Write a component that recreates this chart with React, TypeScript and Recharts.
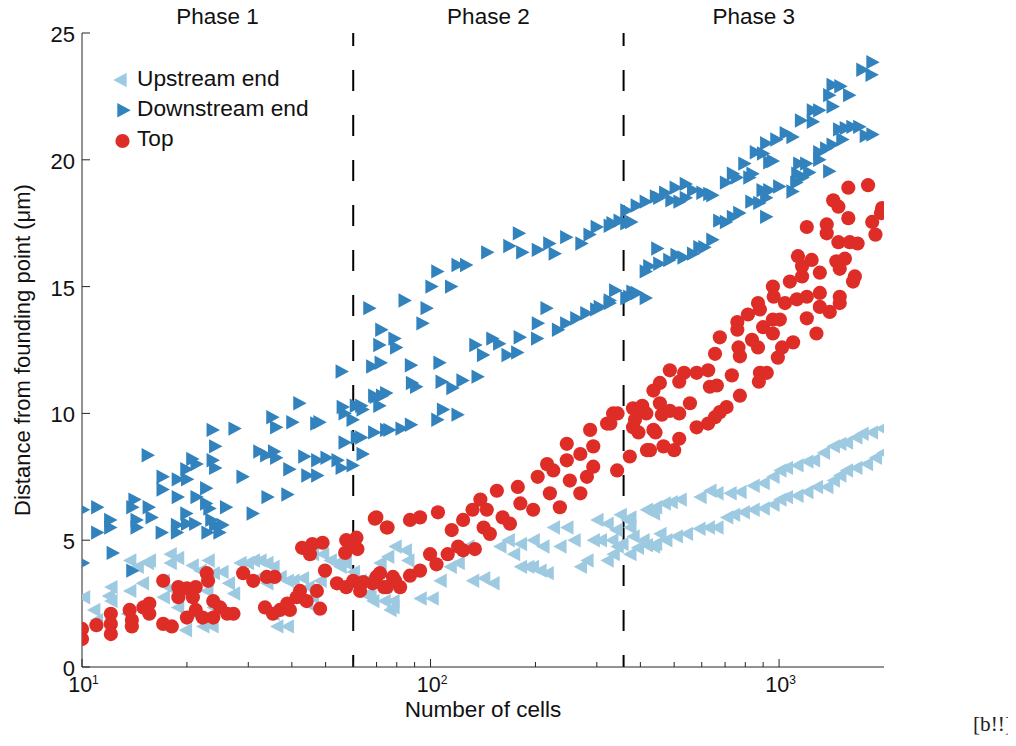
import React from 'react';
import { ScatterChart, Scatter, XAxis, YAxis, ReferenceLine, ReferenceArea, Legend } from 'recharts';

// Upstream end: [number of cells, distance (µm)]
const upstream: [number, number][] = [
  [10.1, 2.75], [10.8, 2.25], [11.0, 1.85], [11.9, 2.8], [12.1, 3.15], [12.1, 2.6], [13.5, 2.1], [13.7, 4.2],
  [13.7, 3.0], [14.4, 3.95], [14.9, 3.3], [15.0, 2.25], [15.4, 4.1], [15.6, 4.2], [17.1, 2.75], [17.1, 3.4],
  [17.9, 3.1], [17.9, 4.45], [17.9, 4.1], [18.8, 4.3], [18.8, 2.35], [19.8, 1.45], [20.7, 4.0], [20.8, 2.1],
  [21.8, 3.8], [22.2, 1.6], [22.8, 3.0], [23.0, 4.2], [23.6, 1.6], [23.8, 3.7], [23.8, 2.35], [25.2, 3.75],
  [26.3, 3.3], [27.2, 2.9], [28.4, 4.1], [29.8, 4.1], [31.0, 4.2], [32.4, 4.2], [32.4, 3.55], [33.9, 4.1],
  [33.9, 3.3], [35.3, 3.95], [35.3, 2.1], [36.2, 1.6], [37.0, 3.55], [38.8, 3.4], [38.8, 1.6], [40.3, 3.4],
  [42.9, 3.5], [44.1, 2.5], [44.5, 3.15], [45.8, 2.75], [45.8, 4.45], [48.2, 3.4], [49.0, 4.45], [51.5, 4.2],
  [53.9, 4.1], [55.0, 3.95], [56.9, 4.1], [60.0, 3.75], [62.8, 3.4], [66.3, 2.9], [68.3, 2.6], [71.6, 4.1],
  [73.6, 2.6], [75.3, 4.35], [78.0, 2.35], [79.1, 4.75],
  [68.3, 3.55], [67.0, 2.75], [76.5, 2.25], [78.0, 2.6], [84.6, 4.6], [86.0, 4.2], [93.3, 2.7], [101, 2.7],
  [106.5, 3.4], [113.8, 3.95], [120, 4.1], [128, 4.75], [132, 3.4], [142, 3.5], [151, 3.3], [158, 4.75],
  [167, 5.0], [173, 4.45], [181, 3.95], [190, 3.95], [196, 3.95], [181, 4.85], [197, 5.0], [210, 4.75],
  [206, 3.8], [216, 3.7], [225, 5.5], [235, 4.75], [246, 5.5], [258, 5.0], [269, 3.95], [281, 4.2],
  [293, 5.0], [300, 5.8], [321, 5.65], [331, 5.0], [343, 4.75], [366, 5.8], [381, 5.15], [407, 5.0],
  [436, 6.05], [436, 4.75], [455, 5.25],
  [1970, 9.4], [1840, 9.25], [1730, 9.2], [1660, 9.05], [1560, 8.85], [1493, 8.8], [1430, 8.7], [1340, 8.45],
  [1255, 8.15], [1201, 8.1], [1125, 7.95], [1049, 7.85], [1005, 7.75], [960, 7.5], [900, 7.25], [842, 7.15],
  [772, 6.9], [723, 6.85], [663, 6.85], [633, 6.95], [593, 6.7], [520, 6.6], [490, 6.5], [468, 6.45],
  [442, 6.3], [416, 6.2], [373, 5.9], [350, 6.0], [340, 5.4], [373, 5.5],
  [1990, 8.45], [1890, 8.25], [1780, 8.0], [1660, 7.85], [1560, 7.75], [1493, 7.55], [1430, 7.35], [1370, 7.1],
  [1280, 7.1], [1201, 6.9], [1125, 6.75], [1049, 6.7], [1005, 6.6], [960, 6.4], [900, 6.25], [842, 6.2],
  [789, 6.1], [740, 6.0], [707, 5.9], [663, 5.5], [626, 5.5], [589, 5.45], [542, 5.25], [507, 5.15],
  [473, 5.0], [442, 4.85], [416, 4.8], [392, 4.7], [373, 4.45], [354, 4.85], [334, 4.45], [321, 4.2], [307, 5.0],
];

// Downstream end
const downstream: [number, number][] = [
  [10.1, 6.2], [11.1, 6.3], [10.1, 4.1], [11.1, 5.3], [12.1, 5.8], [12.1, 5.5], [12.3, 4.5], [15.5, 8.35],
  [14.2, 6.6], [14.0, 6.3], [14.4, 5.8], [14.4, 5.5], [14.0, 3.8], [15.6, 6.3], [15.9, 5.9], [17.1, 7.5],
  [17.1, 7.0], [18.9, 7.4], [18.9, 6.7], [20.0, 7.8], [20.1, 7.4], [20.8, 8.2], [21.4, 8.0], [21.4, 6.7],
  [20.0, 6.05], [20.1, 5.65], [22.8, 7.05], [22.8, 6.45], [23.3, 6.25], [23.8, 9.35], [24.2, 8.7], [23.8, 8.15],
  [24.2, 7.85], [27.5, 9.4], [26.0, 6.3], [23.6, 5.8], [24.2, 5.6], [25.4, 5.6], [18.8, 5.6], [17.0, 5.3],
  [18.8, 5.3], [21.2, 5.65], [23.0, 5.3], [24.9, 5.3], [29.0, 7.5], [31.0, 6.05], [32.4, 8.5], [33.9, 8.35],
  [35.7, 8.5], [36.2, 8.25], [35.3, 9.85], [36.2, 9.45], [40.3, 9.65], [39.5, 7.8], [34.2, 6.7], [39.0, 6.8],
  [42.2, 10.4], [43.6, 8.3], [44.5, 7.55], [47.2, 9.6], [47.5, 8.15], [50.5, 8.25], [47.5, 7.55], [54.3, 8.15],
  [55.8, 7.85], [56.9, 10.0], [56.9, 8.85], [60.0, 7.95], [60.0, 9.75], [63.5, 10.3], [69.2, 10.7], [72.9, 10.7],
  [64.1, 8.4], [69.2, 9.25], [76.5, 9.35], [63.5, 9.05],
  [48.2, 9.65], [56.2, 10.25], [61.3, 10.3], [64.1, 10.15], [61.7, 9.05], [69.9, 10.65], [71.6, 10.3], [74.9, 10.8],
  [55.8, 11.65], [68.3, 11.85], [72.2, 12.0], [71.6, 12.7], [79.1, 12.95], [80.0, 12.6], [72.5, 13.3], [67.0, 14.15],
  [84.6, 14.45], [88.2, 11.9], [88.8, 11.2], [91.3, 11.05], [106.5, 12.0], [108, 11.25], [116, 11.0], [124, 11.3],
  [137, 11.45], [105, 9.75], [109, 10.15], [120, 9.95], [74.9, 9.35], [82.9, 9.4], [88.2, 9.55], [95.2, 13.55],
  [97.8, 14.15], [101, 15.0], [105, 15.6], [115, 15.0], [120, 15.85], [127, 15.85], [146, 16.35], [169, 16.6],
  [180, 17.1], [184, 16.35], [204, 16.45], [220, 16.7], [228, 16.3], [246, 16.95], [272, 16.7], [287, 17.05],
  [301, 17.35], [334, 17.5], [366, 17.5], [135, 12.7], [142, 12.3], [151, 12.95], [158, 12.75], [167, 12.3],
  [178, 12.4], [181, 13.0], [203, 12.95], [204, 13.55], [216, 14.15], [233, 13.3], [246, 13.55], [263, 13.75],
  [281, 13.95], [300, 14.1], [328, 14.35], [366, 14.55], [381, 14.8], [307, 14.2], [328, 14.45],
  [392, 18.2], [366, 18.0], [378, 17.55], [416, 18.35], [445, 18.55], [473, 18.7], [493, 18.4], [507, 18.9],
  [542, 19.05], [542, 18.5], [569, 18.8], [605, 18.7], [633, 18.65], [707, 19.1], [740, 19.45], [825, 19.3],
  [798, 19.85], [941, 19.9], [861, 20.3], [922, 20.65], [986, 20.8], [1097, 20.9], [1049, 21.05], [1160, 21.55],
  [1255, 21.5], [1255, 21.95], [1430, 22.1], [1398, 22.55], [1595, 22.55], [1505, 22.9], [1430, 22.95], [1850, 23.35],
  [1740, 23.55], [1860, 23.85], [1309, 21.95], [903, 20.25], [963, 19.95], [842, 19.45], [759, 19.3], [646, 18.6],
  [520, 18.35], [455, 18.5], [350, 17.6], [328, 17.4],
  [392, 14.75], [416, 14.55], [373, 14.6], [340, 14.85], [416, 15.6], [426, 15.8], [455, 15.9], [449, 16.5],
  [486, 16.05], [510, 16.25], [534, 16.15], [569, 16.3], [613, 16.55], [646, 16.85], [593, 16.55], [707, 17.55],
  [772, 17.9], [740, 17.75], [676, 17.6], [881, 18.3], [922, 17.75], [836, 18.35], [941, 18.8], [900, 18.8],
  [922, 18.5], [1005, 18.95], [1097, 18.75], [1125, 19.1], [1172, 19.3], [1133, 19.45], [1147, 19.85], [1201, 19.85],
  [1225, 19.5], [1309, 20.0], [1309, 20.3], [1370, 20.45], [1398, 19.55], [1430, 20.6], [1525, 20.8], [1493, 21.2],
  [1560, 21.25], [1705, 21.3], [1780, 20.95], [1630, 21.3], [1860, 21.0],
];

// Top
const topPts: [number, number][] = [
  [10.0, 1.5], [10.0, 1.1], [11.0, 1.65], [12.1, 2.1], [12.1, 1.7], [12.1, 1.3], [13.7, 2.25], [13.9, 1.85],
  [13.9, 1.6], [15.0, 2.35], [15.6, 2.5], [15.6, 2.1], [17.1, 3.4], [17.1, 1.7], [18.1, 1.6], [18.9, 3.15],
  [18.9, 2.75], [20.0, 3.1], [21.2, 3.15], [20.8, 2.75], [20.0, 1.95], [21.2, 2.25], [22.2, 1.95], [23.0, 3.4],
  [22.8, 3.7], [23.8, 2.6], [23.8, 1.95], [24.9, 2.35], [26.1, 2.1], [27.2, 2.1], [29.0, 3.7], [31.0, 3.4],
  [33.9, 3.55], [35.7, 3.55], [33.5, 2.35], [35.3, 2.1], [37.0, 2.25], [38.8, 2.5], [39.5, 2.25], [41.3, 2.75],
  [42.2, 3.0], [44.1, 2.6], [47.2, 3.0], [48.2, 2.3], [49.8, 3.8], [42.8, 4.7], [45.1, 4.45], [45.8, 4.85],
  [49.0, 4.9], [53.9, 3.3], [57.3, 3.15], [57.3, 5.0], [61.3, 5.1], [56.9, 4.5], [61.7, 4.65], [69.2, 5.85],
  [75.3, 5.5], [60.0, 3.4], [64.1, 3.35], [69.9, 3.55], [73.6, 3.15], [79.1, 3.4],
  [62.8, 3.0], [68.3, 3.3], [71.6, 3.7], [74.9, 3.15], [78.0, 3.55], [81.8, 3.15], [87.3, 3.6], [93.3, 3.8],
  [99.7, 4.45], [104, 4.05], [112, 4.45], [120, 4.75], [124, 4.6], [134, 4.65], [115, 5.4], [124, 5.8],
  [132, 6.2], [139, 6.6], [145, 6.2], [142, 5.5], [148, 5.25], [155, 6.95], [161, 5.9], [169, 5.65],
  [178, 7.1], [181, 6.45], [197, 6.2], [203, 7.5], [216, 8.0], [225, 7.75], [220, 6.85], [235, 6.3],
  [246, 8.8], [246, 8.15], [251, 7.35], [269, 8.4], [269, 6.85], [281, 7.5], [287, 9.35], [293, 8.7],
  [293, 7.9], [321, 9.6], [334, 10.0], [343, 7.75], [373, 8.3], [381, 9.45], [392, 10.1], [416, 10.0],
  [426, 8.55], [436, 9.35], [455, 10.4], [69.9, 5.9], [74.9, 5.5], [87.3, 5.8], [93.3, 5.9], [105, 6.1], [60.0, 4.85],
  [328, 9.6], [344, 10.0], [381, 10.2], [386, 9.75], [395, 9.25], [405, 10.3], [436, 10.9], [461, 9.95],
  [442, 9.25], [418, 8.55], [466, 8.7], [500, 8.55], [517, 9.0], [486, 10.1], [517, 10.0], [555, 10.4],
  [580, 9.45], [626, 9.6], [655, 9.85], [676, 10.05], [707, 10.25], [772, 10.7], [633, 11.05], [455, 11.2],
  [486, 11.7], [534, 11.6], [580, 11.6], [626, 11.7], [517, 11.25], [663, 11.1], [676, 13.0], [655, 12.35],
  [759, 13.6], [759, 13.3], [765, 12.6], [772, 12.25], [732, 11.5], [814, 13.9], [870, 14.35], [881, 14.1],
  [836, 12.9], [870, 12.6], [900, 13.4], [960, 13.7], [960, 13.15], [1005, 13.7], [1020, 12.6], [992, 12.2],
  [881, 11.6], [922, 11.6], [875, 11.25], [1097, 12.8], [960, 15.0], [965, 14.6], [1040, 14.35], [1074, 15.2],
  [1125, 14.5], [1164, 15.4], [1201, 14.6], [1164, 15.8], [1133, 16.2], [1240, 16.05], [1309, 15.55], [1309, 14.75],
  [1309, 14.2], [1398, 14.0], [1201, 13.75], [1280, 13.15], [1460, 16.0], [1493, 15.7], [1545, 16.1], [1493, 14.6],
  [1493, 14.35], [1650, 15.4], [1630, 15.2], [1201, 17.35], [1370, 17.45], [1370, 17.1], [1430, 18.4], [1480, 18.15],
  [1580, 18.9], [1580, 17.7], [1480, 16.75], [1595, 16.75], [1680, 16.7], [1800, 19.0], [1850, 17.55], [1890, 17.05],
  [1960, 17.9], [1975, 18.1],
];

const xTicks = [10, 20, 30, 40, 50, 60, 70, 80, 90, 100, 200, 300, 400, 500, 600, 700, 800, 900, 1000];
const xMajor = [10, 100, 1000];
const yTicks = [0, 5, 10, 15, 20, 25];
const xDomain = [10, 2000];
const yDomain = [0, 25];
const phaseBounds = [60, 358];
const phases = [
  { name: 'Phase 1', from: 10, to: 60 },
  { name: 'Phase 2', from: 60, to: 358 },
  { name: 'Phase 3', from: 358, to: 2000 },
];
const seriesNames = ['Upstream end', 'Downstream end', 'Top'];

const C_UP = '#9ecae1';
const C_DOWN = '#3182bd';
const C_TOP = '#de2d26';
const AXIS = '#262626';
const TXT = '#111';
const FONT = '"Liberation Sans", Arial, Helvetica, sans-serif';

const toPts = (a: [number, number][]) => a.map(([x, y]) => ({ x, y }));

const leftTri = (cx: number, cy: number, fill: string) => (
  <polygon points={`${cx + 6.7},${cy - 7.2} ${cx - 6.7},${cy} ${cx + 6.7},${cy + 7.2}`} fill={fill} />
);
const rightTri = (cx: number, cy: number, fill: string) => (
  <polygon points={`${cx - 6.7},${cy - 7.2} ${cx + 6.7},${cy} ${cx - 6.7},${cy + 7.2}`} fill={fill} />
);
const dot = (cx: number, cy: number, fill: string) => <circle cx={cx} cy={cy} r={7.1} fill={fill} />;

const UpShape = (p: any) => leftTri(p.cx, p.cy, C_UP);
const DownShape = (p: any) => rightTri(p.cx, p.cy, C_DOWN);
const TopShape = (p: any) => dot(p.cx, p.cy, C_TOP);

const BottomTick = (p: any) => {
  const { x, y, payload } = p;
  const v = payload.value;
  const major = xMajor.includes(v);
  return (
    <g>
      <line x1={x} x2={x} y1={y} y2={y - (major ? 8 : 5)} stroke={AXIS} strokeWidth={1} />
      {major && (
        <text x={x + 1.5} y={y + 25} textAnchor="middle" fontSize={21.5} fill={TXT} fontFamily={FONT}>
          10<tspan dy={-8} fontSize={12}>{Math.round(Math.log10(v))}</tspan>
        </text>
      )}
    </g>
  );
};
const TopTick = (p: any) => {
  const { x, y, payload } = p;
  const major = xMajor.includes(payload.value);
  return <line x1={x} x2={x} y1={y} y2={y + (major ? 8 : 5)} stroke={AXIS} strokeWidth={1} />;
};
const LeftTick = (p: any) => {
  const { x, y, payload } = p;
  return (
    <g>
      <line x1={x} x2={x + 8} y1={y} y2={y} stroke={AXIS} strokeWidth={1} />
      <text x={x - 7} y={y} dy={9} textAnchor="end" fontSize={22} fill={TXT} fontFamily={FONT}>
        {payload.value}
      </text>
    </g>
  );
};
const RightTick = (p: any) => {
  const { x, y } = p;
  return <line x1={x} x2={x - 8} y1={y} y2={y} stroke={AXIS} strokeWidth={1} />;
};

const renderLegend = () => (
  <svg width={240} height={100} style={{ display: 'block', overflow: 'visible' }}>
    {leftTri(12, 14, C_UP)}
    {rightTri(16, 44.3, C_DOWN)}
    {dot(14.5, 75, C_TOP)}
    {seriesNames.map((n, i) => (
      <text key={n} x={29} y={20 + i * 30} fontSize={22.7} fill={TXT} fontFamily={FONT}>
        {n}
      </text>
    ))}
  </svg>
);

export default function App() {
  return (
    <div style={{ position: 'relative', width: 1016, height: 746, marginTop: -8, marginLeft: -8, fontFamily: FONT }}>
      <ScatterChart width={1016} height={746} margin={{ top: 33, right: 132, bottom: 19, left: 22 }}>
        <XAxis
          dataKey="x"
          type="number"
          scale="log"
          domain={xDomain}
          allowDataOverflow
          ticks={xTicks}
          interval={0}
          tickSize={0}
          tickMargin={0}
          tickLine={false}
          tick={BottomTick}
          axisLine={{ stroke: AXIS }}
          height={60}
          label={{ value: 'Number of cells', position: 'insideBottom', offset: 10, style: { fontSize: 22.5, fill: TXT, fontFamily: FONT } }}
        />
        <XAxis
          xAxisId="top"
          orientation="top"
          type="number"
          scale="log"
          domain={xDomain}
          allowDataOverflow
          ticks={xTicks}
          interval={0}
          height={0}
          tickSize={0}
          tickMargin={0}
          tickLine={false}
          tick={TopTick}
          axisLine={{ stroke: AXIS }}
        />
        <YAxis
          dataKey="y"
          type="number"
          domain={yDomain}
          allowDataOverflow
          ticks={yTicks}
          interval={0}
          width={60}
          tickSize={0}
          tickMargin={0}
          tickLine={false}
          tick={LeftTick}
          axisLine={{ stroke: AXIS }}
          label={{
            value: 'Distance from founding point (μm)',
            angle: -90,
            position: 'insideLeft',
            offset: 0,
            style: { textAnchor: 'middle', fontSize: 22, fill: TXT, fontFamily: FONT },
          }}
        />
        <YAxis
          yAxisId="right"
          orientation="right"
          type="number"
          domain={yDomain}
          allowDataOverflow
          ticks={yTicks}
          interval={0}
          width={0}
          tickSize={0}
          tickMargin={0}
          tickLine={false}
          tick={RightTick}
          axisLine={{ stroke: AXIS }}
        />
        {phases.map((ph) => (
          <ReferenceArea
            key={ph.name}
            x1={ph.from}
            x2={ph.to}
            fill="none"
            fillOpacity={0}
            stroke="none"
            label={{ value: ph.name, position: 'top', offset: 9, style: { fontSize: 22.5, fill: TXT, fontFamily: FONT } }}
          />
        ))}
        <Scatter name={seriesNames[0]} data={toPts(upstream)} shape={UpShape} isAnimationActive={false} />
        <Scatter name={seriesNames[1]} data={toPts(downstream)} shape={DownShape} isAnimationActive={false} />
        <Scatter name={seriesNames[2]} data={toPts(topPts)} shape={TopShape} isAnimationActive={false} />
        {phaseBounds.map((b) => (
          <ReferenceLine key={b} x={b} stroke="#000" strokeWidth={2} strokeDasharray="21 24" strokeDashoffset={9} />
        ))}
        <Legend
          layout="vertical"
          align="center"
          verticalAlign="middle"
          wrapperStyle={{ left: 108, top: 66, width: 240, height: 100 }}
          content={renderLegend}
        />
      </ScatterChart>
      <svg
        width={1016}
        height={746}
        style={{ position: 'absolute', left: 0, top: 0, pointerEvents: 'none' }}
      >
        <text x={973} y={731} fontSize={20} textLength={39} lengthAdjust="spacingAndGlyphs" fill="#222" fontFamily='"Liberation Serif", "DejaVu Serif", serif'>
          [b!!]
        </text>
      </svg>
    </div>
  );
}
